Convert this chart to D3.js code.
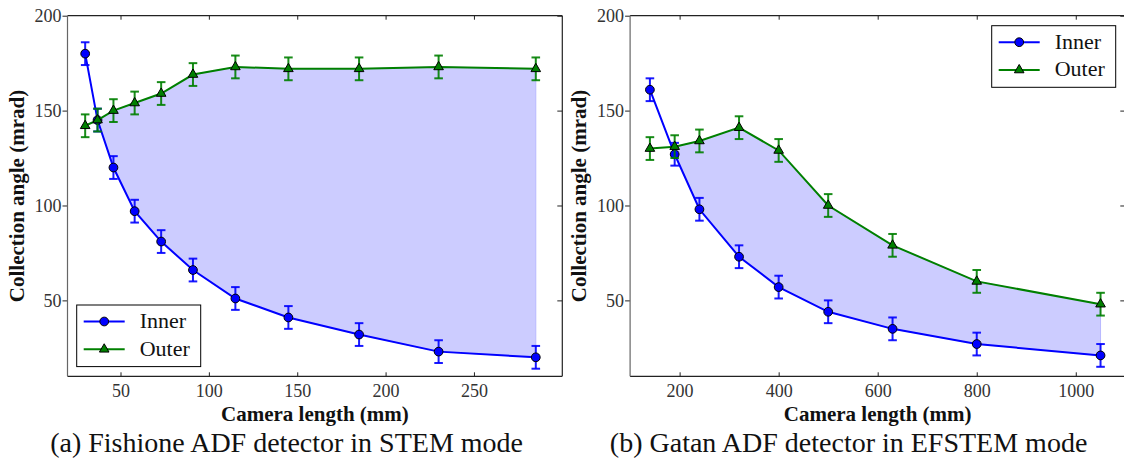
<!DOCTYPE html>
<html>
<head>
<meta charset="utf-8">
<script src="https://cdn.jsdelivr.net/npm/d3@7"></script>
<style>
  body { margin: 0; background: #fff; }
  svg { display: block; }
  text { font-family: "Liberation Serif", serif; fill: #111; }
</style>
</head>
<body>
<div id="chart"></div>
<script>

// --------------------------------------
//  Data
// --------------------------------------

// (a) Fishione ADF detector, STEM mode
const fishLength = [30, 37, 46, 58, 73, 91, 115, 145, 185, 230, 285];
const fishInner  = [180, 145, 120, 97, 81, 66, 51, 41, 32, 23, 20];
const fishOuter  = [142, 145, 150, 154, 159, 169, 173, 172, 172, 173, 172];
const fishInnerErr = [6, 6, 6, 6, 6, 6, 6, 6, 6, 6, 6];
const fishOuterErr = [6, 6, 6, 6, 6, 6, 6, 6, 6, 6, 6];

// (b) Gatan ADF detector, EFSTEM mode
const gatanLength = [140, 190, 240, 320, 400, 500, 630, 800, 1050];
const gatanInner  = [161, 127, 98, 73, 57, 44, 35, 27, 21];
const gatanOuter  = [130, 131, 134, 141, 129, 100, 79, 60, 48];
const gatanInnerErr = [6, 6, 6, 6, 6, 6, 6, 6, 6];
const gatanOuterErr = [6, 6, 6, 6, 6, 6, 6, 6, 6];

const fishXTicks = [50, 100, 150, 200, 250];
const gatanXTicks = [200, 400, 600, 800, 1000];
const yTicks = [50, 100, 150, 200];

const seriesNames = ["Inner", "Outer"];
const captions = ["(a) Fishione ADF detector in STEM mode", "(b) Gatan ADF detector in EFSTEM mode"];

// --------------------------------------
//  Canvas
// --------------------------------------

const width = 1124;
const height = 473;

const svg = d3.select("#chart")
  .append("svg")
    .attr("width", width)
    .attr("height", height);

const blue = "#0000ff";
const green = "#008000";

function drawPanel(p) {

  const x = d3.scaleLinear().domain(p.xDomain).range(p.xRange);
  const y = d3.scaleLinear().domain([10, 200]).range([376.3, 15.7]);

  const g = svg.append("g");

  // shaded band where outer >= inner
  const band = p.lengths.map((d, i) => ({x: d, lo: p.inner[i], hi: p.outer[i]}))
    .filter(d => d.hi >= d.lo);

  g.append("path")
    .datum(band)
    .attr("d", d3.area().x(d => x(d.x)).y0(d => y(d.lo)).y1(d => y(d.hi)))
    .attr("fill", "#ccccff")
    .attr("stroke", "#b8b8ff")
    .attr("stroke-width", 1);

  // axes: y ticks point left, x ticks point inward
  const [x0, x1] = p.xRange;
  const y0 = y.range()[0], y1 = y.range()[1];

  const bottom = g.append("g")
    .attr("transform", `translate(0, ${y0})`)
    .call(d3.axisBottom(x).tickValues(p.xTicks).tickFormat(d3.format("d"))
      .tickSizeInner(-4).tickSizeOuter(0).tickPadding(8));
  const top = g.append("g")
    .attr("transform", `translate(0, ${y1})`)
    .call(d3.axisTop(x).tickValues(p.xTicks).tickSizeInner(-4).tickSizeOuter(0).tickFormat(""));
  const left = g.append("g")
    .attr("transform", `translate(${x0}, 0)`)
    .call(d3.axisLeft(y).tickValues(yTicks).tickSizeInner(5).tickSizeOuter(0).tickPadding(1));
  const right = g.append("g")
    .attr("transform", `translate(${x1}, 0)`)
    .call(d3.axisRight(y).tickValues(yTicks).tickSizeInner(-5).tickSizeOuter(0).tickFormat(""));

  [bottom, top, left, right].forEach(a => {
    a.select(".domain").remove();
    a.selectAll(".tick line").attr("stroke", "#222").attr("stroke-width", 1);
    a.selectAll("text")
      .style("font-family", "'Liberation Serif', serif")
      .attr("font-size", 18)
      .style("fill", "#333");
  });

  // frame
  g.append("line").attr("x1", x0).attr("x2", x1).attr("y1", y1).attr("y2", y1).attr("stroke", "#222").attr("stroke-width", 1.2);
  g.append("line").attr("x1", x0).attr("x2", x1).attr("y1", y0).attr("y2", y0).attr("stroke", "#222").attr("stroke-width", 1.2);
  g.append("line").attr("x1", x0).attr("x2", x0).attr("y1", y0).attr("y2", y1).attr("stroke", "#666").attr("stroke-width", 1.2);
  g.append("line").attr("x1", x1).attr("x2", x1).attr("y1", y0).attr("y2", y1).attr("stroke", "#222").attr("stroke-width", 1.2);

  // series
  const series = [
    {name: seriesNames[0], values: p.inner, err: p.innerErr, color: blue, shape: d3.symbolCircle, size: 60},
    {name: seriesNames[1], values: p.outer, err: p.outerErr, color: green, shape: d3.symbolTriangle, size: 40}
  ];

  series.forEach(s => {
    const pts = p.lengths.map((d, i) => ({x: d, y: s.values[i], e: s.err[i]}));

    g.append("path")
      .datum(pts)
      .attr("d", d3.line().x(d => x(d.x)).y(d => y(d.y)))
      .attr("fill", "none")
      .attr("stroke", s.color)
      .attr("stroke-width", 2);

    const bars = g.append("g")
      .attr("stroke", s.color)
      .attr("stroke-opacity", 0.9)
      .attr("stroke-width", 2);

    bars.selectAll(".bar")
      .data(pts)
      .join("line")
      .attr("class", "bar")
      .attr("x1", d => x(d.x)).attr("x2", d => x(d.x))
      .attr("y1", d => y(d.y - d.e)).attr("y2", d => y(d.y + d.e));

    bars.selectAll(".cap")
      .data(pts.flatMap(d => [{x: d.x, y: d.y - d.e}, {x: d.x, y: d.y + d.e}]))
      .join("line")
      .attr("class", "cap")
      .attr("x1", d => x(d.x) - 4.3).attr("x2", d => x(d.x) + 4.3)
      .attr("y1", d => y(d.y)).attr("y2", d => y(d.y));

    g.selectAll(null)
      .data(pts)
      .join("path")
      .attr("transform", d => `translate(${x(d.x)}, ${y(d.y)})`)
      .attr("d", d3.symbol(s.shape, s.size))
      .attr("fill", s.color)
      .attr("stroke", "#000")
      .attr("stroke-width", 1);
  });

  // axis titles
  g.append("text")
    .attr("x", (x0 + x1) / 2)
    .attr("y", 421)
    .attr("text-anchor", "middle")
    .attr("font-size", 21)
    .attr("font-weight", "bold")
    .text("Camera length (mm)");

  g.append("text")
    .attr("transform", `translate(${x0 - 44}, ${(y0 + y1) / 2}) rotate(-90)`)
    .attr("text-anchor", "middle")
    .attr("font-size", 21)
    .attr("font-weight", "bold")
    .text("Collection angle (mrad)");

  // legend
  const leg = g.append("g").attr("transform", `translate(${p.legend[0]}, ${p.legend[1]})`);
  leg.append("rect")
    .attr("width", 124).attr("height", 61.6)
    .attr("fill", "#fff")
    .attr("stroke", "#000")
    .attr("stroke-width", 1);

  series.forEach((s, i) => {
    const ly = 16.5 + i * 27.8;
    leg.append("line")
      .attr("x1", 7).attr("x2", 48)
      .attr("y1", ly).attr("y2", ly)
      .attr("stroke", s.color).attr("stroke-width", 2);
    leg.append("path")
      .attr("transform", `translate(27.5, ${ly})`)
      .attr("d", d3.symbol(s.shape, s.size))
      .attr("fill", s.color)
      .attr("stroke", "#000")
      .attr("stroke-width", 1);
    leg.append("text")
      .attr("x", 63)
      .attr("y", ly + 6.5)
      .attr("font-size", 22)
      .text(s.name);
  });

  // caption
  svg.append("text")
    .attr("x", p.captionX)
    .attr("y", 452)
    .attr("text-anchor", "middle")
    .attr("font-size", 28)
    .text(p.caption);
}

drawPanel({
  xDomain: [20, 300], xRange: [67.5, 562.3], xTicks: fishXTicks,
  lengths: fishLength, inner: fishInner, outer: fishOuter,
  innerErr: fishInnerErr, outerErr: fishOuterErr,
  legend: [76.7, 305], caption: captions[0], captionX: 286.6
});

drawPanel({
  xDomain: [100, 1100], xRange: [630.1, 1125.3], xTicks: gatanXTicks,
  lengths: gatanLength, inner: gatanInner, outer: gatanOuter,
  innerErr: gatanInnerErr, outerErr: gatanOuterErr,
  legend: [991.7, 25.7], caption: captions[1], captionX: 848.6
});

</script>
</body>
</html>
